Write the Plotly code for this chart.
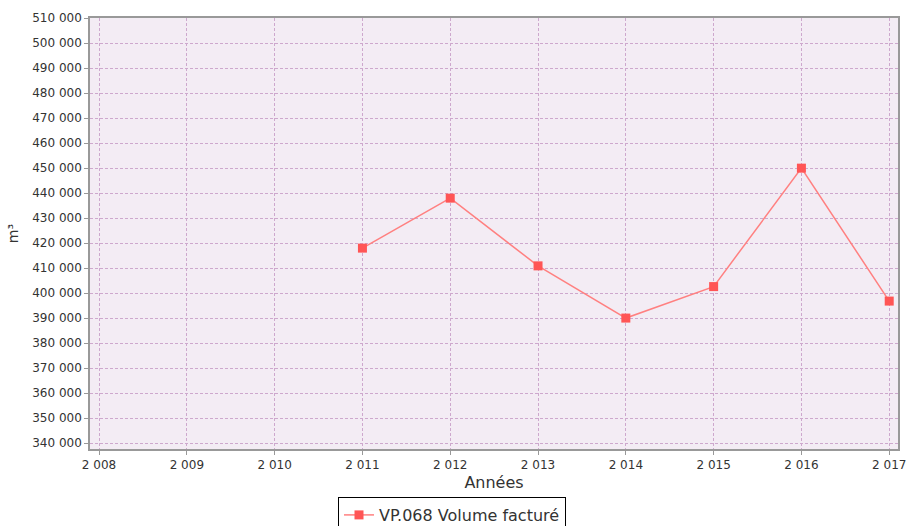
import plotly.graph_objects as go

years = [2011, 2012, 2013, 2014, 2015, 2016, 2017]
volume = [418000, 438000, 410900, 390000, 402600, 450000, 396800]
series_name = "VP.068 Volume facturé"
x_ticks = list(range(2008, 2018))
y_ticks = list(range(340000, 510001, 10000))

fig = go.Figure()
fig.add_trace(go.Scatter(
    x=years, y=volume, name=series_name, mode="lines+markers",
    line=dict(color="#FF8080", width=1.5),
    marker=dict(symbol="square", size=9, color="#FF5555"),
    cliponaxis=False,
))

axis_common = dict(
    showline=True, linecolor="#999999", linewidth=1.5, mirror=True,
    ticks="outside", ticklen=4, tickcolor="#999999",
    showgrid=True, gridcolor="#CDA8CD", gridwidth=1, griddash="3px,2px",
    tickfont=dict(family="DejaVu Sans", size=12, color="#333333"),
    zeroline=False, automargin=False, ticklabeloverflow="allow",
)

W, H = 907, 526
fig.update_layout(
    width=W, height=H,
    margin=dict(l=90, r=9, t=18, b=77, autoexpand=False),
    paper_bgcolor="white", plot_bgcolor="#F3ECF4",
    separators=". ",
    font=dict(family="DejaVu Sans", color="#333333"),
    xaxis=dict(range=[2007.897, 2017.10], tickvals=x_ticks, tickformat=",d",
               title=dict(text="Années", font=dict(size=16, color="#333333"), standoff=6),
               **axis_common),
    yaxis=dict(range=[337600, 510100], tickvals=y_ticks, tickformat=",d",
               title=dict(text="m³", font=dict(size=14, color="#333333"), standoff=10),
               **axis_common),
    showlegend=True,
    legend=dict(orientation="h", xref="container", x=452 / W, xanchor="center",
                yref="container", y=1 - 497 / H, yanchor="top",
                bordercolor="black", borderwidth=1, bgcolor="white",
                font=dict(size=16, color="#333333"), itemwidth=30),
)

fig.write_html(
    "out.html",
    config={"displayModeBar": False},
    post_script="document.body.style.margin='0';document.body.style.overflow='hidden';",
)
